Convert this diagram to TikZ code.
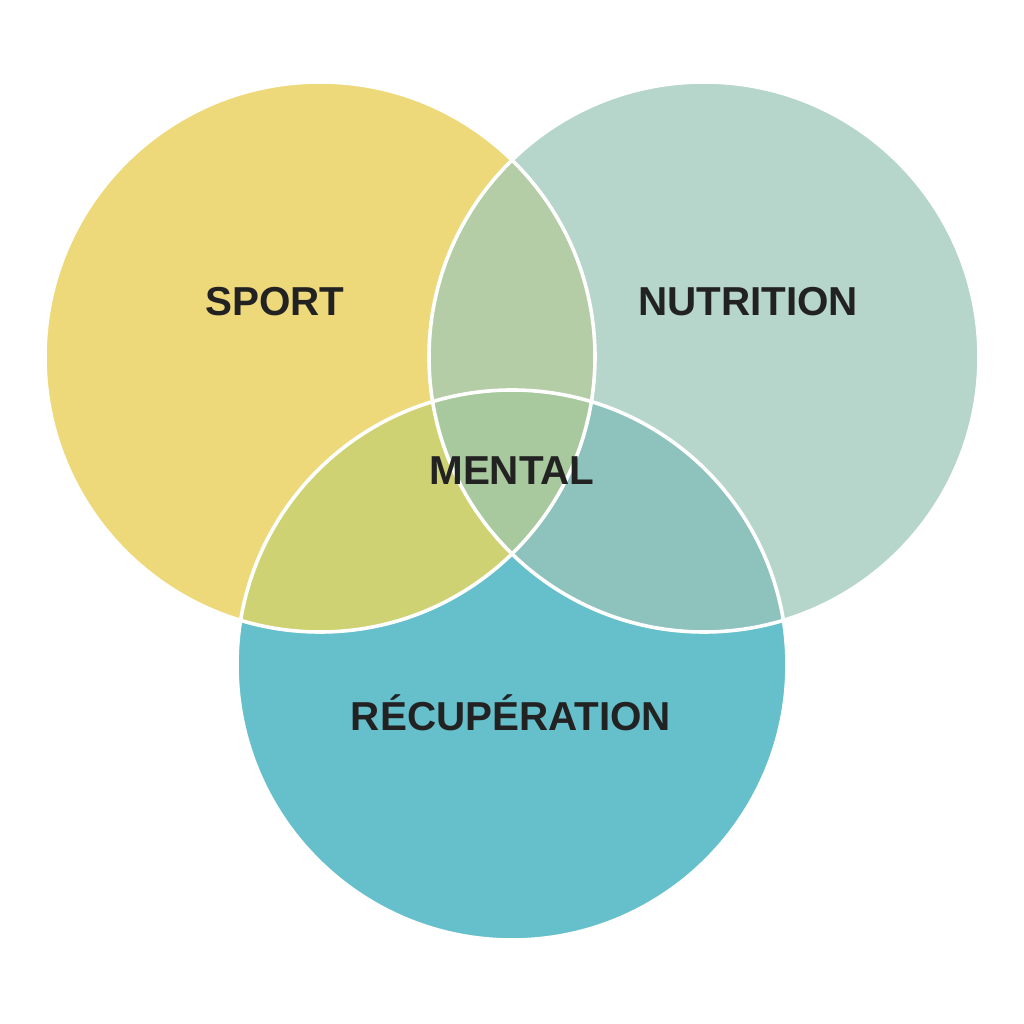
\documentclass[tikz,border=0pt]{standalone}
\usepackage{fontspec}
\setmainfont{Liberation Sans}
\usepackage{xcolor}
\usepackage{tikz}

\definecolor{sportcol}{HTML}{EED97A}
\definecolor{nutricol}{HTML}{B6D5CB}
\definecolor{recupcol}{HTML}{66C0CB}
\definecolor{spnucol}{HTML}{B4CDA6}
\definecolor{sprecol}{HTML}{CFD272}
\definecolor{nurecol}{HTML}{8DC3BC}
\definecolor{mentcol}{HTML}{A8C89E}
\definecolor{labelcol}{HTML}{222222}

\tikzset{
  venntext/.style={anchor=base,inner sep=0.75pt,text=labelcol,font=\fontsize{20.2}{24}\selectfont\bfseries},
}

\begin{document}
\begin{tikzpicture}[x=0.5pt,y=0.5pt,yscale=1,xscale=1]
\useasboundingbox (0,0) rectangle (1024,1024);
\coordinate (sportc) at (320,667);
\coordinate (nutric) at (704,667);
\coordinate (recupc) at (512,359);
% circles
\fill [sportcol] (sportc) circle (275);
\fill [nutricol] (nutric) circle (275);
\fill [recupcol] (recupc) circle (275);
% overlaps
\begin{scope}
\clip (sportc) circle (275);
\fill [spnucol] (nutric) circle (275);
\fill [sprecol] (recupc) circle (275);
\end{scope}
\begin{scope}
\clip (nutric) circle (275);
\fill [nurecol] (recupc) circle (275);
\clip (sportc) circle (275);
\fill [mentcol] (recupc) circle (275);
\end{scope}
% white outlines
\draw [white,line width=1.8pt] (sportc) circle (275);
\draw [white,line width=1.8pt] (nutric) circle (275);
\draw [white,line width=1.8pt] (recupc) circle (275);
% labels
\node (sport) [venntext] at (275,708) {SPORT};
\node (nutrition) [venntext] at (748,708) {NUTRITION};
\node (mental) [venntext] at (512,539) {MENTAL};
\node (recup) [venntext] at (511,293) {RÉCUPÉRATION};
\end{tikzpicture}
\end{document}
